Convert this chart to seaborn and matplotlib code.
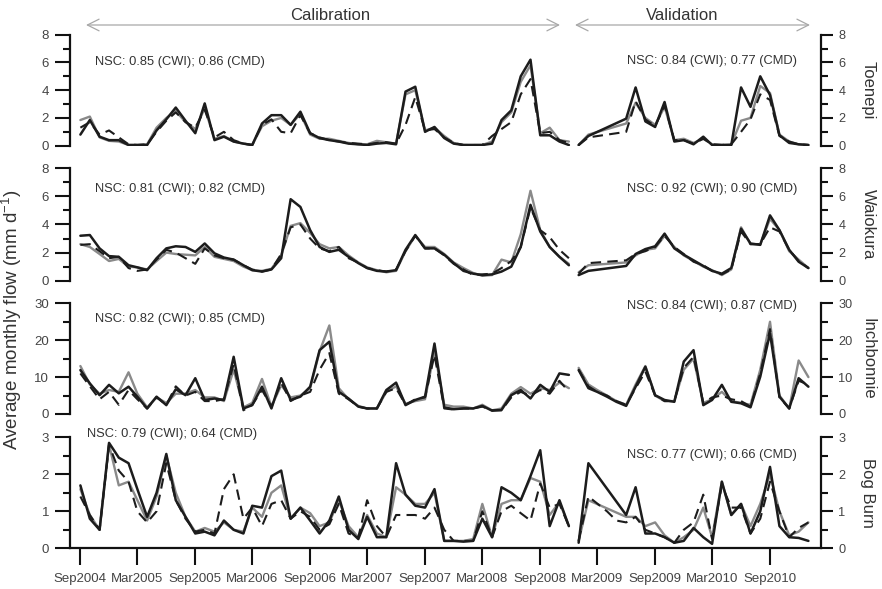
import numpy as np
import pandas as pd
import matplotlib
matplotlib.use("Agg")
import matplotlib.pyplot as plt
import matplotlib.dates as mdates
from matplotlib.ticker import MultipleLocator, FixedLocator
import seaborn as sns

sns.set_theme(style="white")
plt.rcParams["font.family"] = ["Liberation Sans", "DejaVu Sans"]
plt.rcParams["mathtext.default"] = "regular"

nan = np.nan

# Monthly time axis: calibration Sep2004-Dec2008, validation Jan2009-Jan2011
cal_dates = pd.date_range("2004-09-01", periods=52, freq="MS")
val_dates = pd.date_range("2009-01-01", periods=25, freq="MS")

sites = ["Toenepi", "Waiokura", "Inchbonnie", "Bog Burn"]
y_max = [8, 8, 30, 3]
y_major = [2, 2, 10, 1]
y_minor = [1, 1, 5, 0.5]
nsc_cal = ["NSC: 0.85 (CWI); 0.86 (CMD)", "NSC: 0.81 (CWI); 0.82 (CMD)",
           "NSC: 0.82 (CWI); 0.85 (CMD)", "NSC: 0.79 (CWI); 0.64 (CMD)"]
nsc_val = ["NSC: 0.84 (CWI); 0.77 (CMD)", "NSC: 0.92 (CWI); 0.90 (CMD)",
           "NSC: 0.84 (CWI); 0.87 (CMD)", "NSC: 0.77 (CWI); 0.66 (CMD)"]

# ---- Toenepi (mm/d) ----
toenepi_obs_cal = [0.8, 1.85, 0.65, 0.4, 0.4, 0.05, 0.05, 0.05, 1.1, 1.9, 2.75, 1.8, 0.9, 3.05, 0.4, 0.65,
                   0.3, 0.15, 0.05, 1.6, 2.2, 2.2, 1.5, 2.45, 0.9, 0.55, 0.4, 0.3, 0.15, 0.1, 0.05, 0.15,
                   0.2, 0.1, 3.9, 4.25, 1.0, 1.35, 0.55, 0.15, 0.05, 0.05, 0.05, 0.15, 1.85, 2.55, 5.0, 6.2,
                   0.75, 0.75, 0.3, 0.05]
toenepi_cwi_cal = [1.85, 2.1, 0.6, 0.35, 0.3, 0.05, 0.05, 0.1, 1.3, 2.0, 2.5, 1.7, 1.2, 2.7, 0.5, 0.7,
                   0.3, 0.15, 0.05, 1.4, 1.8, 2.0, 1.5, 2.3, 0.8, 0.5, 0.5, 0.35, 0.2, 0.1, 0.1, 0.35,
                   0.25, 0.15, 3.7, 4.0, 1.1, 1.3, 0.7, 0.2, 0.05, 0.05, 0.05, 0.3, 1.7, 2.4, 4.6, 5.8,
                   0.9, 1.3, 0.4, 0.3]
toenepi_cmd_cal = [1.3, 1.7, 0.8, 1.1, 0.6, 0.1, 0.05, 0.1, 1.0, 1.8, 2.4, 1.7, 1.3, 2.6, 0.6, 1.0,
                   0.4, 0.15, 0.05, 1.5, 1.9, 1.0, 0.9, 2.2, 0.9, 0.6, 0.4, 0.3, 0.2, 0.15, 0.1, 0.2,
                   0.25, 0.15, 1.5, 3.5, 1.1, 1.2, 0.6, 0.2, 0.05, 0.05, 0.05, 0.7, 1.2, 1.7, 3.7, 4.8,
                   0.9, 1.0, 0.4, 0.2]
toenepi_obs_val = [0.05, 0.7, nan, nan, nan, 1.95, 4.2, 1.75, 1.35, 3.15, 0.3, 0.4, 0.1, 0.65, 0.05, 0.05,
                   0.05, 4.2, 2.8, 5.0, 3.65, 0.75, 0.2, 0.1, 0.05]
toenepi_cwi_val = [0.05, 0.8, nan, nan, nan, 1.6, 3.1, 2.0, 1.5, 2.8, 0.4, 0.5, 0.2, 0.5, 0.1, 0.05,
                   0.1, 1.8, 2.0, 4.3, 3.8, 0.8, 0.3, 0.1, 0.05]
toenepi_cmd_val = [0.05, 0.6, nan, nan, nan, 1.0, 3.2, 1.9, 1.4, 2.9, 0.4, 0.4, 0.15, 0.5, 0.1, 0.05,
                   0.1, 1.0, 1.9, 3.7, 3.3, 0.7, 0.3, 0.1, 0.05]

# ---- Waiokura (mm/d) ----
waiokura_obs_cal = [3.2, 3.25, 2.3, 1.75, 1.7, 1.1, 0.95, 0.75, 1.6, 2.3, 2.45, 2.4, 2.05, 2.65, 1.95, 1.65,
                    1.5, 1.1, 0.75, 0.65, 0.8, 1.6, 5.8, 5.25, 3.6, 2.4, 2.05, 2.2, 1.7, 1.25, 0.9, 0.7,
                    0.65, 0.75, 2.2, 3.25, 2.3, 2.3, 1.85, 1.25, 0.7, 0.5, 0.4, 0.45, 0.65, 1.0, 2.4, 5.4,
                    3.5, 2.4, 1.7, 1.1]
waiokura_cwi_cal = [2.6, 2.4, 1.9, 1.4, 1.55, 1.0, 0.95, 0.8, 1.4, 2.0, 1.9, 1.85, 1.8, 2.4, 1.7, 1.55,
                    1.4, 1.0, 0.75, 0.7, 0.85, 1.8, 3.9, 4.1, 3.4, 2.6, 2.3, 2.4, 1.8, 1.3, 0.95, 0.75,
                    0.6, 0.7, 2.1, 3.2, 2.4, 2.4, 1.9, 1.3, 0.9, 0.55, 0.35, 0.4, 1.5, 1.3, 3.3, 6.4,
                    3.6, 2.4, 1.7, 1.2]
waiokura_cmd_cal = [2.55, 2.6, 2.1, 1.6, 1.7, 0.9, 0.7, 0.8, 1.5, 2.2, 2.0, 1.6, 1.2, 2.3, 1.8, 1.6,
                    1.5, 1.1, 0.8, 0.65, 0.8, 1.9, 3.8, 4.0, 3.0, 2.3, 2.1, 2.4, 1.6, 1.3, 0.9, 0.75,
                    0.65, 0.8, 2.1, 3.2, 2.3, 2.3, 1.8, 1.2, 0.8, 0.4, 0.45, 0.5, 0.9, 1.4, 2.4, 5.2,
                    3.6, 3.1, 2.2, 1.6]
waiokura_obs_val = [0.4, 0.7, nan, nan, nan, 1.05, 1.9, 2.25, 2.45, 3.35, 2.3, 1.85, 1.45, 1.05, 0.7, 0.5,
                    0.9, 3.7, 2.65, 2.55, 4.65, 3.6, 2.2, 1.35, 0.9]
waiokura_cwi_val = [0.6, 1.1, nan, nan, nan, 1.3, 1.8, 2.2, 2.3, 3.2, 2.4, 1.8, 1.4, 1.0, 0.75, 0.4,
                    0.8, 3.8, 2.6, 2.6, 4.4, 3.6, 2.1, 1.5, 0.9]
waiokura_cmd_val = [0.5, 1.25, nan, nan, nan, 1.45, 1.9, 2.1, 2.4, 3.2, 2.4, 1.9, 1.35, 1.1, 0.7, 0.45,
                    0.8, 3.5, 2.6, 2.6, 3.8, 3.5, 2.2, 1.4, 0.9]

# ---- Inchbonnie (mm/d) ----
inch_obs_cal = [11.9, 8.3, 5.1, 7.9, 5.6, 7.4, 4.7, 1.5, 4.7, 2.4, 6.7, 5.1, 9.7, 3.8, 4.2, 3.8,
                15.5, 1.5, 2.4, 7.4, 1.5, 9.7, 3.8, 4.7, 7.4, 17.3, 19.6, 6.0, 4.2, 2.0, 1.5, 1.5,
                6.5, 8.5, 2.4, 3.8, 4.7, 19.1, 1.8, 1.3, 1.5, 1.5, 2.2, 0.9, 1.1, 5.1, 6.5, 4.2,
                7.9, 6.0, 11.0, 10.6]
inch_cwi_cal = [13.0, 8.0, 5.5, 6.5, 6.0, 11.3, 5.5, 1.8, 4.5, 3.0, 5.5, 5.5, 6.5, 4.5, 4.5, 3.5,
                12.0, 1.8, 3.0, 9.5, 2.0, 7.8, 4.5, 5.0, 7.0, 17.0, 24.0, 7.0, 4.0, 2.2, 1.5, 1.5,
                6.0, 7.5, 2.8, 3.5, 4.0, 17.0, 2.5, 2.0, 2.0, 1.5, 2.5, 1.0, 1.5, 5.5, 7.3, 5.5,
                7.0, 6.5, 8.5, 7.0]
inch_cmd_cal = [11.0, 7.5, 4.0, 6.0, 2.5, 6.5, 4.0, 1.5, 4.5, 2.5, 7.5, 5.0, 6.0, 3.5, 3.5, 4.0,
                13.5, 1.0, 2.5, 6.5, 2.0, 8.5, 3.5, 5.0, 6.0, 12.0, 16.5, 5.5, 4.0, 2.0, 1.5, 1.5,
                6.0, 7.0, 2.5, 4.0, 4.5, 16.0, 1.5, 1.2, 1.5, 1.5, 2.0, 1.0, 1.0, 4.5, 6.0, 5.0,
                6.5, 5.5, 9.0, 6.0]
inch_obs_val = [11.9, 7.0, 6.0, 4.7, 3.3, 2.2, 7.4, 12.8, 5.1, 3.8, 3.3, 14.2, 17.3, 2.4, 3.8, 7.9,
                3.3, 2.9, 1.8, 10.1, 21.9, 4.7, 1.5, 9.7, 7.4]
inch_cwi_val = [12.5, 8.0, 6.5, 5.0, 3.5, 2.5, 8.0, 13.0, 5.0, 3.5, 3.5, 12.0, 15.0, 3.0, 4.0, 6.0,
                3.5, 3.0, 2.5, 12.0, 25.0, 5.0, 1.5, 14.5, 10.0]
inch_cmd_val = [12.0, 7.5, 6.0, 5.0, 3.5, 2.5, 7.0, 11.5, 5.0, 3.5, 3.5, 12.5, 15.5, 3.0, 4.5, 5.0,
                4.0, 3.5, 2.0, 11.0, 23.0, 4.5, 1.5, 9.0, 8.0]

# ---- Bog Burn (mm/d) ----
bog_obs_cal = [1.7, 0.8, 0.5, 2.85, 2.45, 2.3, 1.6, 0.85, 1.5, 2.55, 1.3, 0.85, 0.4, 0.45, 0.35, 0.75,
               0.5, 0.4, 1.15, 1.1, 1.95, 2.1, 0.8, 1.1, 0.75, 0.4, 0.75, 1.4, 0.5, 0.25, 0.85, 0.3,
               0.3, 2.3, 1.45, 1.15, 1.1, 1.6, 0.2, 0.2, 0.18, 0.2, 0.8, 0.3, 1.65, 1.5, 1.3, 1.95,
               2.65, 0.6, 1.3, 0.6]
bog_cwi_cal = [1.6, 0.9, 0.5, 2.8, 1.7, 1.8, 1.3, 0.75, 1.4, 2.5, 1.5, 0.85, 0.45, 0.55, 0.45, 0.7,
               0.5, 0.45, 1.1, 0.85, 1.5, 1.7, 0.8, 1.1, 0.95, 0.6, 0.7, 1.3, 0.6, 0.3, 0.9, 0.4,
               0.3, 1.65, 1.45, 1.2, 1.2, 1.5, 0.2, 0.2, 0.2, 0.25, 1.2, 0.3, 1.2, 1.3, 1.3, 1.9,
               1.8, 0.9, 1.25, 0.6]
bog_cmd_cal = [1.4, 0.9, 0.5, 2.8, 2.1, 1.8, 1.0, 0.7, 1.0, 2.3, 1.3, 0.8, 0.45, 0.5, 0.4, 1.6,
               2.0, 0.8, 1.1, 0.6, 1.2, 1.3, 0.8, 1.0, 0.85, 0.5, 0.65, 1.2, 0.4, 0.3, 1.3, 0.6,
               0.3, 0.9, 0.9, 0.9, 0.8, 1.1, 0.5, 0.2, 0.2, 0.2, 1.0, 0.3, 1.0, 1.15, 0.95, 0.75,
               1.75, 1.1, 1.2, 0.6]
bog_obs_val = [0.15, 2.3, nan, nan, nan, 0.9, 1.65, 0.4, 0.4, 0.3, 0.15, 0.2, 0.55, 0.3, 0.12, 1.8,
               0.9, 1.2, 0.4, 1.0, 2.2, 0.6, 0.3, 0.28, 0.2]
bog_cwi_val = [0.2, 1.3, nan, nan, nan, 0.85, 0.85, 0.6, 0.7, 0.35, 0.15, 0.3, 0.5, 1.1, 0.3, 1.8,
               0.9, 1.2, 0.6, 1.2, 2.0, 1.0, 0.35, 0.45, 0.7]
bog_cmd_val = [0.2, 1.4, nan, 1.0, 0.75, 0.7, 0.85, 0.5, 0.4, 0.3, 0.15, 0.5, 0.7, 1.45, 0.25, 1.7,
               1.1, 1.1, 0.4, 0.8, 1.8, 1.0, 0.3, 0.55, 0.7]

series = {
    "Toenepi": (toenepi_obs_cal, toenepi_cwi_cal, toenepi_cmd_cal,
                toenepi_obs_val, toenepi_cwi_val, toenepi_cmd_val),
    "Waiokura": (waiokura_obs_cal, waiokura_cwi_cal, waiokura_cmd_cal,
                 waiokura_obs_val, waiokura_cwi_val, waiokura_cmd_val),
    "Inchbonnie": (inch_obs_cal, inch_cwi_cal, inch_cmd_cal,
                   inch_obs_val, inch_cwi_val, inch_cmd_val),
    "Bog Burn": (bog_obs_cal, bog_cwi_cal, bog_cmd_cal,
                 bog_obs_val, bog_cwi_val, bog_cmd_val),
}

line_styles = {
    "CWI": dict(color="#8a8a8a", linewidth=1.7, linestyle="-"),
    "CMD": dict(color="#1c1c1c", linewidth=1.5, linestyle=(0, (5, 3))),
    "Observed": dict(color="#1c1c1c", linewidth=1.8, linestyle="-"),
}

W, H = 882, 589
fig = plt.figure(figsize=(W / 100, H / 100), dpi=100)

# panel extents in pixels (top, bottom)
panel_px = [(34.7, 145.7), (168.3, 280.7), (303.3, 414.0), (437.3, 548.3)]
x_left, x_right = 70, 821
nsc_left_y = [62, 189, 319, 434]
nsc_right_y = [61, 189, 306, 455]

txt_col = "#333333"
tick_col = "#444444"

axes = []
for i, site in enumerate(sites):
    top, bot = panel_px[i]
    rect = [x_left / W, 1 - bot / H, (x_right - x_left) / W, (bot - top) / H]
    ax = fig.add_axes(rect, sharex=axes[0] if axes else None)
    axes.append(ax)
    obs_c, cwi_c, cmd_c, obs_v, cwi_v, cmd_v = series[site]
    for dates, obs, cwi, cmd in [(cal_dates, obs_c, cwi_c, cmd_c), (val_dates, obs_v, cwi_v, cmd_v)]:
        df = pd.DataFrame({"date": dates, "Observed": obs, "CWI": cwi, "CMD": cmd})
        for name in ["CWI", "CMD", "Observed"]:
            d = df[["date", name]].dropna()
            sns.lineplot(data=d, x="date", y=name, ax=ax, estimator=None, sort=False,
                         legend=False, **line_styles[name])

    major_ticks = np.arange(0, y_max[i] + 1e-9, y_major[i])
    minor_ticks = np.arange(0, y_max[i] + 1e-9, y_minor[i])

    ax.set_ylim(0, y_max[i])
    ax.yaxis.set_major_locator(FixedLocator(major_ticks))
    ax.yaxis.set_minor_locator(FixedLocator(minor_ticks))
    ax.set_ylabel("")
    ax.set_xlabel("")
    ax.set_facecolor("none")
    for s in ["top", "right", "bottom"]:
        ax.spines[s].set_visible(False)
    ax.spines["left"].set_linewidth(1.6)
    ax.spines["left"].set_color("#111111")
    ax.tick_params(axis="y", which="major", direction="out", left=True, length=11, width=1.5,
                   color="#111111", labelsize=9.5, labelcolor=tick_col, pad=4)
    ax.tick_params(axis="y", which="minor", direction="out", left=True, length=5, width=1.5,
                   color="#111111")

    sec = ax.secondary_yaxis("right")
    sec.yaxis.set_major_locator(FixedLocator(major_ticks))
    sec.yaxis.set_minor_locator(FixedLocator(minor_ticks))
    sec.spines["right"].set_linewidth(1.6)
    sec.spines["right"].set_color("#111111")
    sec.tick_params(axis="y", which="major", direction="out", length=8.5, width=1.5,
                    color="#111111", labelsize=9.2, labelcolor=tick_col, pad=4)
    sec.tick_params(axis="y", which="minor", direction="out", length=5, width=1.5, color="#111111")

    fig.text(868 / W, 1 - ((top + bot) / 2) / H, site, rotation=270, ha="center", va="center",
             fontsize=12, color=txt_col)
    fig.text(95 / W if i < 3 else 87 / W, 1 - nsc_left_y[i] / H, nsc_cal[i], ha="left", va="center",
             fontsize=9.3, color=txt_col)
    fig.text(627 / W, 1 - nsc_right_y[i] / H, nsc_val[i], ha="left", va="center",
             fontsize=9.3, color=txt_col)

    if i < 3:
        ax.tick_params(axis="x", bottom=False, labelbottom=False)

bottom_ax = axes[-1]
bottom_ax.spines["bottom"].set_visible(True)
bottom_ax.spines["bottom"].set_linewidth(1.6)
bottom_ax.spines["bottom"].set_color("#111111")
bottom_ax.set_xlim(pd.Timestamp("2004-07-30"), pd.Timestamp("2011-02-10"))
bottom_ax.xaxis.set_major_locator(mdates.MonthLocator(bymonth=[3, 9]))
bottom_ax.xaxis.set_major_formatter(mdates.DateFormatter("%b%Y"))
bottom_ax.tick_params(axis="x", which="major", bottom=True, direction="out", length=12, width=1.5,
                      color="#111111", labelsize=9.5, labelcolor=tick_col, pad=6)

# y-axis title
fig.text(12 / W, 1 - 320 / H, "Average monthly flow (mm d$^{-1}$)", rotation=90,
         ha="center", va="center", fontsize=13.5, color=txt_col)

# period labels with double-headed arrows
arrow_kw = dict(arrowstyle="<->,head_length=0.7,head_width=0.35", color="#a8a8a8", lw=0.9,
                shrinkA=0, shrinkB=0)
fig.add_artist(matplotlib.patches.FancyArrowPatch((86 / W, 1 - 25 / H), (560 / W, 1 - 25 / H),
                                                  transform=fig.transFigure, mutation_scale=12,
                                                  **arrow_kw))
fig.add_artist(matplotlib.patches.FancyArrowPatch((575 / W, 1 - 25 / H), (810 / W, 1 - 25 / H),
                                                  transform=fig.transFigure, mutation_scale=12,
                                                  **arrow_kw))
fig.text(330 / W, 1 - 15 / H, "Calibration", ha="center", va="center", fontsize=12, color=txt_col,
         bbox=dict(facecolor="white", edgecolor="none", pad=1))
fig.text(682 / W, 1 - 15 / H, "Validation", ha="center", va="center", fontsize=12, color=txt_col,
         bbox=dict(facecolor="white", edgecolor="none", pad=1))

fig.savefig("out.png", dpi=100, facecolor="white")
